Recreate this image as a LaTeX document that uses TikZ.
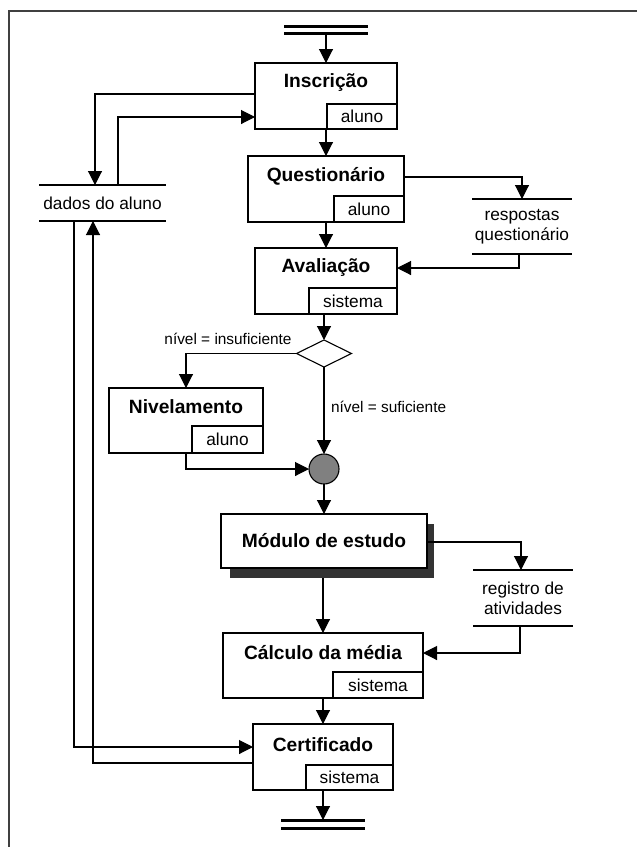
\documentclass[tikz,border=0pt]{standalone}
\usepackage{fontspec}
\setmainfont{Liberation Sans}
\usetikzlibrary{arrows.meta,shapes.geometric,calc}
\begin{document}
\begin{tikzpicture}[x=1pt,y=-1pt,
  every node/.style={inner sep=0pt, outer sep=0pt},
  box/.style={draw, fill=white, line width=1.1pt},
  role/.style={draw, line width=1.1pt, anchor=south east, font=\fontsize{17.3}{20}\selectfont},
  title/.style={font=\bfseries\fontsize{19.2}{22}\selectfont},
  store/.style={align=center, font=\fontsize{17.3}{20}\selectfont},
  storeline/.style={line width=1.1pt},
  cond/.style={font=\fontsize{15.4}{18}\selectfont},
  flow/.style={line width=1.1pt, -{Triangle[length=14pt,width=14pt]}},
  bar/.style={line width=3pt},
  frame/.style={line width=1.6pt, draw=black!75}]

\useasboundingbox (0,0) rectangle (637,847);
\draw[frame] (637,11) -- (9,11) -- (9,847);

% start and end bars
\node[minimum width=84, minimum height=7] (start) at (326,29.5) {};
\draw[bar] (start.north west) -- (start.north east);
\draw[bar] (start.south west) -- (start.south east);
\node[minimum width=84, minimum height=8] (stop) at (323,824) {};
\draw[bar] (stop.north west) -- (stop.north east);
\draw[bar] (stop.south west) -- (stop.south east);

% activities
\node[box, minimum width=142, minimum height=66] (insc) at (326,96) {};
\node[title] at ([yshift=-20pt]insc.north) {Inscrição};
\node[role, minimum width=70, minimum height=25] (insc-r) at (insc.south east) {aluno};

\node[box, minimum width=156, minimum height=66] (quest) at (326,189) {};
\node[title] at ([yshift=-20pt]quest.north) {Questionário};
\node[role, minimum width=70, minimum height=26] (quest-r) at (quest.south east) {aluno};

\node[box, minimum width=142, minimum height=66] (aval) at (326,281) {};
\node[title] at ([yshift=-20pt]aval.north) {Avaliação};
\node[role, minimum width=88, minimum height=26] (aval-r) at (aval.south east) {sistema};

\node[box, minimum width=154, minimum height=65] (nivel) at (186,420.5) {};
\node[title] at ([yshift=-19pt]nivel.north) {Nivelamento};
\node[role, minimum width=71, minimum height=27] (nivel-r) at (nivel.south east) {aluno};

% drop shadow behind the study module
\fill[black!80] (230,524) rectangle (434,578);
\node[box, minimum width=206, minimum height=54, title] (mod) at (324,541) {Módulo de estudo};

\node[box, minimum width=200, minimum height=65] (calc) at (323,665.5) {};
\node[title] at ([yshift=-20pt]calc.north) {Cálculo da média};
\node[role, minimum width=90, minimum height=26] (calc-r) at (calc.south east) {sistema};

\node[box, minimum width=140, minimum height=66] (cert) at (323,757) {};
\node[title] at ([yshift=-21pt]cert.north) {Certificado};
\node[role, minimum width=87, minimum height=25] (cert-r) at (cert.south east) {sistema};

% decision and merge
\node[draw, line width=1.1pt, diamond, minimum width=55, minimum height=27] (dia) at (324,353.5) {};
\node[draw, line width=1.1pt, circle, fill=black!50, minimum size=30] (merge) at (324,469) {};

% data stores
\node[store, minimum width=127, minimum height=36] (dados) at (102.5,203) {dados do aluno};
\node[store, minimum width=100, minimum height=55] (resp) at (522,226.5) {respostas\\questionário};
\node[store, minimum width=100, minimum height=56] (reg) at (523,598) {registro de\\atividades};
\foreach \s in {dados,resp,reg}{
  \draw[storeline] (\s.north west) -- (\s.north east);
  \draw[storeline] (\s.south west) -- (\s.south east);
}

% main flow
\draw[flow] (start.south) -- (insc.north);
\draw[flow] (insc.south) -- (quest.north);
\draw[flow] (quest.south) -- (aval.north);
\draw[flow] ([xshift=-2pt]aval.south) -- (dia.north);
\draw[flow] (dia.west) -| (nivel.north);
\draw[flow] (dia.south) -- (merge.north);
\draw[flow] (nivel.south) |- (merge.west);
\draw[flow] (merge.south) -- (mod.north);
\draw[flow] ([yshift=-10pt]calc.north |- mod.south) -- (calc.north);
\draw[flow] (calc.south) -- (cert.north);
\draw[flow] (cert.south) -- (stop.north);

\node[cond] at (228,339) {nível = insuficiente};
\node[cond, anchor=west] at (331,407) {nível = suficiente};

% data flows
\draw[flow] ([yshift=12pt]quest.east) -| (resp.north);
\draw[flow] ([xshift=-3pt]resp.south) |- ([yshift=13pt]aval.east);
\draw[flow] ([yshift=-1pt]mod.east) -| ([xshift=-2pt]reg.north);
\draw[flow] ([xshift=-3pt]reg.south) |- ([yshift=12.5pt]calc.east);
\draw[flow] ([yshift=2pt]insc.west) -| ([xshift=-7.5pt]dados.north);
\draw[flow] ([xshift=15.5pt]dados.north) |- ([yshift=-21pt]insc.west);
\draw[flow] ([xshift=-28.5pt]dados.south) |- ([yshift=10pt]cert.west);
\draw[flow] ([yshift=-6pt]cert.west) -| ([xshift=-9.5pt]dados.south);
\end{tikzpicture}
\end{document}
